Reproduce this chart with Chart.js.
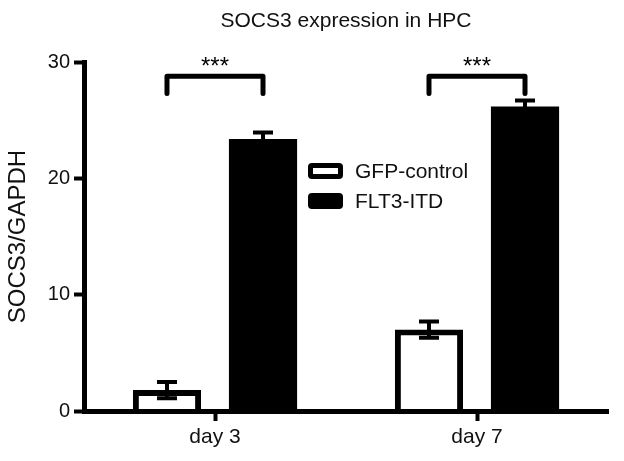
<!DOCTYPE html>
<html>
<head>
<meta charset="utf-8">
<script src="https://cdn.jsdelivr.net/npm/chart.js@4/dist/chart.umd.min.js"></script>
<style>
  html, body { margin: 0; padding: 0; background: #fff; }
  #wrap { width: 624px; height: 461px; }
</style>
</head>
<body>
<div id="wrap"><canvas id="socsChart"></canvas></div>
<script>
  // values
  const categories = ['day 3', 'day 7'];
  const seriesNames = ['GFP-control', 'FLT3-ITD'];
  const gfpValues = [1.8, 7.0];
  const gfpErrors = [0.7, 0.7];
  const flt3Values = [23.4, 26.2];
  const flt3Errors = [0.55, 0.5];
  const yTicks = [0, 10, 20, 30];
  const sigLabels = ['***', '***'];
  const sigBracketY = 28.8;
  const sigLegY = 27.3;

  const FONT = "'Liberation Sans', Arial, sans-serif";

  const errorBars = {
    id: 'errorBars',
    afterDatasetsDraw(chart) {
      const ctx = chart.ctx;
      const y = chart.scales.y;
      const errs = [gfpErrors, flt3Errors];
      ctx.save();
      ctx.strokeStyle = '#000';
      ctx.lineWidth = 4;
      chart.data.datasets.forEach((ds, i) => {
        chart.getDatasetMeta(i).data.forEach((bar, j) => {
          const v = ds.data[j];
          const e = errs[i][j];
          const top = y.getPixelForValue(v + e);
          const bot = y.getPixelForValue(v - e);
          ctx.beginPath();
          ctx.moveTo(bar.x, top);
          ctx.lineTo(bar.x, bot);
          ctx.moveTo(bar.x - 10, top);
          ctx.lineTo(bar.x + 10, top);
          ctx.moveTo(bar.x - 10, bot);
          ctx.lineTo(bar.x + 10, bot);
          ctx.stroke();
        });
      });
      ctx.restore();
    }
  };

  const sigBrackets = {
    id: 'sigBrackets',
    afterDraw(chart) {
      const ctx = chart.ctx;
      const y = chart.scales.y;
      const m0 = chart.getDatasetMeta(0).data;
      const m1 = chart.getDatasetMeta(1).data;
      const yB = y.getPixelForValue(sigBracketY);
      const yL = y.getPixelForValue(sigLegY);
      ctx.save();
      ctx.strokeStyle = '#000';
      ctx.lineWidth = 5;
      ctx.lineJoin = 'round';
      ctx.lineCap = 'round';
      sigLabels.forEach((lbl, j) => {
        const x1 = m0[j].x;
        const x2 = m1[j].x;
        ctx.beginPath();
        ctx.moveTo(x1, yL);
        ctx.lineTo(x1, yB);
        ctx.lineTo(x2, yB);
        ctx.lineTo(x2, yL);
        ctx.stroke();
        ctx.fillStyle = '#000';
        ctx.font = '24px ' + FONT;
        ctx.textAlign = 'center';
        ctx.textBaseline = 'alphabetic';
        ctx.fillText(lbl, (x1 + x2) / 2, yB - 2);
      });
      ctx.restore();
    }
  };

  const boxLegend = {
    id: 'boxLegend',
    afterDraw(chart) {
      const ctx = chart.ctx;
      const x0 = 308, y0 = 163, rowH = 30, bw = 35, bh = 16;
      ctx.save();
      chart.data.datasets.forEach((ds, i) => {
        const top = y0 + i * rowH;
        ctx.fillStyle = '#000';
        ctx.beginPath();
        ctx.roundRect(x0, top, bw, bh, 4);
        ctx.fill();
        if (ds.backgroundColor !== '#000') {
          ctx.fillStyle = ds.backgroundColor;
          ctx.fillRect(x0 + 5, top + 5, bw - 10, bh - 10);
        }
        ctx.fillStyle = '#111';
        ctx.font = '21px ' + FONT;
        ctx.textAlign = 'left';
        ctx.textBaseline = 'middle';
        ctx.fillText(ds.label, x0 + 47, top + bh / 2 + 1);
      });
      ctx.restore();
    }
  };

  const ctx = document.getElementById('socsChart').getContext('2d');
  new Chart(ctx, {
    type: 'bar',
    data: {
      labels: categories,
      datasets: [{
        label: seriesNames[0],
        data: gfpValues,
        backgroundColor: '#fff',
        borderColor: '#000',
        borderWidth: 6,
        borderSkipped: 'start',
        categoryPercentage: 0.733,
        barPercentage: 0.71
      }, {
        label: seriesNames[1],
        data: flt3Values,
        backgroundColor: '#000',
        borderColor: '#000',
        borderWidth: 0,
        categoryPercentage: 0.733,
        barPercentage: 0.71
      }]
    },
    options: {
      responsive: true,
      maintainAspectRatio: false,
      animation: false,
      layout: { padding: { left: 0, right: 16, top: 0, bottom: 0 } },
      plugins: {
        legend: { display: false },
        tooltip: { enabled: false },
        title: {
          display: true,
          text: 'SOCS3 expression in HPC',
          fullSize: false,
          color: '#111',
          font: { family: FONT, size: 21, weight: 'normal' },
          padding: { top: 9, bottom: 28 }
        }
      },
      scales: {
        x: {
          afterFit: scale => { scale.height = 50; },
          grid: {
            display: true,
            drawOnChartArea: false,
            drawTicks: true,
            tickLength: 10,
            tickWidth: 4,
            tickColor: '#000',
            offset: false,
            z: 1
          },
          border: { display: true, color: '#000', width: 5, z: 1 },
          ticks: { color: '#111', padding: 4, font: { family: FONT, size: 21 } }
        },
        y: {
          min: 0,
          max: 30,
          afterFit: scale => { scale.width = 84; },
          afterBuildTicks: scale => { scale.ticks = yTicks.map(v => ({ value: v })); },
          grid: {
            display: true,
            drawOnChartArea: false,
            drawTicks: true,
            tickLength: 10,
            tickWidth: 4,
            tickColor: '#000'
          },
          border: { display: true, color: '#000', width: 5 },
          ticks: { color: '#111', padding: 4, font: { family: FONT, size: 20 } },
          title: {
            display: true,
            text: 'SOCS3/GAPDH',
            color: '#111',
            font: { family: FONT, size: 24 },
            padding: { top: 4, bottom: 0 }
          }
        }
      }
    },
    plugins: [errorBars, sigBrackets, boxLegend]
  });
</script>
</body>
</html>
